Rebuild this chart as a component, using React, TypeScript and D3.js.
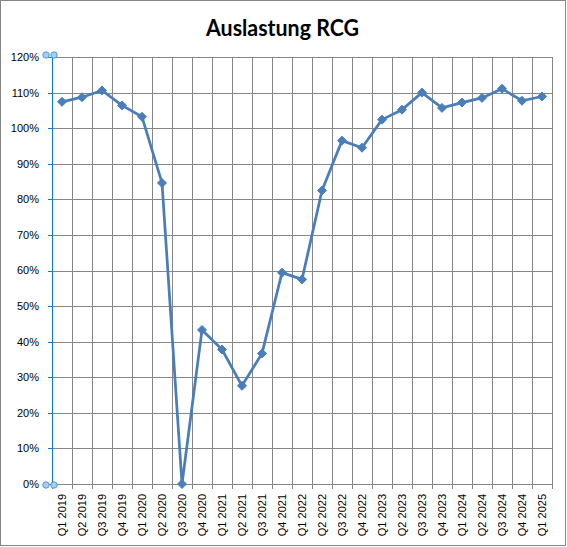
import * as d3 from "d3";

// quarter labels along the x axis
const quarters = [
  "Q1 2019", "Q2 2019", "Q3 2019", "Q4 2019",
  "Q1 2020", "Q2 2020", "Q3 2020", "Q4 2020",
  "Q1 2021", "Q2 2021", "Q3 2021", "Q4 2021",
  "Q1 2022", "Q2 2022", "Q3 2022", "Q4 2022",
  "Q1 2023", "Q2 2023", "Q3 2023", "Q4 2023",
  "Q1 2024", "Q2 2024", "Q3 2024", "Q4 2024",
  "Q1 2025",
];

// utilisation in percent
const auslastung = [
  107.4, 108.7, 110.6, 106.4,
  103.2, 84.6, 0, 43.3,
  37.8, 27.6, 36.7, 59.4,
  57.5, 82.5, 96.5, 94.5,
  102.4, 105.2, 110.0, 105.7,
  107.2, 108.5, 111.1, 107.7,
  108.9,
];

const yTicks = [0, 10, 20, 30, 40, 50, 60, 70, 80, 90, 100, 110, 120];

const W = 567;
const H = 547;
const margin = { top: 57, right: 15, bottom: 63, left: 52 };
const font = "'Liberation Sans', Arial, sans-serif";
const lineColor = "#4a7ebb";
const gridColor = "#868686";
const axisBlue = "#0a78d7";

export default function App() {
  const x = d3
    .scaleBand<string>()
    .domain(quarters)
    .range([margin.left, W - margin.right]);

  const y = d3
    .scaleLinear()
    .domain([0, 120])
    .range([H - margin.bottom, margin.top]);

  const cx = (q: string) => (x(q) ?? 0) + x.bandwidth() / 2;

  const line = d3
    .line<number>()
    .x((_, i) => cx(quarters[i]))
    .y((d) => y(d));

  const bottom = y(0);
  const top = y(120);
  const left = margin.left;
  const right = W - margin.right;

  // category boundaries (vertical gridlines)
  const boundaries = quarters.map((q) => x(q) ?? 0).concat([right]);

  // Excel-style diamond marker
  const diamond = "M0,-4.5L4.5,0L0,4.5L-4.5,0Z";

  return (
    <div style={{ position: "absolute", left: 0, top: 0 }}>
      <svg width={W} height={H} style={{ display: "block", background: "#fff" }}>
        <rect x={0.5} y={0.5} width={W - 2} height={H - 2} fill="#fff" stroke={gridColor} />

        <text
          x={206}
          y={36}
          textLength={153}
          lengthAdjust="spacingAndGlyphs"
          fontFamily="Lato, 'Liberation Sans', sans-serif"
          fontWeight="bold"
          fontSize={22}
          fill="#000"
        >
          Auslastung RCG
        </text>

        {/* horizontal gridlines */}
        {yTicks.map((t) => (
          <line
            key={"h" + t}
            x1={left}
            x2={right}
            y1={Math.round(y(t)) + 0.5}
            y2={Math.round(y(t)) + 0.5}
            stroke={gridColor}
          />
        ))}

        {/* vertical gridlines with tick marks below the axis */}
        {boundaries.map((b, i) => (
          <line
            key={"v" + i}
            x1={Math.round(b) + 0.5}
            x2={Math.round(b) + 0.5}
            y1={top}
            y2={bottom + 5}
            stroke={gridColor}
          />
        ))}

        {/* y axis (selected, blue) */}
        <line x1={left + 0.5} x2={left + 0.5} y1={top} y2={bottom} stroke={axisBlue} />
        {yTicks.map((t) => (
          <line
            key={"yt" + t}
            x1={left - 4}
            x2={left}
            y1={Math.round(y(t)) + 0.5}
            y2={Math.round(y(t)) + 0.5}
            stroke={axisBlue}
          />
        ))}
        {[top - 2, bottom + 1].map((cy, i) => (
          <g key={"hdl" + i}>
            <circle cx={left - 6} cy={cy} r={3.2} fill="#a9cdf0" stroke="#4a9be0" strokeWidth={1} />
            <circle cx={left + 2} cy={cy} r={3.2} fill="#a9cdf0" stroke="#4a9be0" strokeWidth={1} />
          </g>
        ))}

        {/* y tick labels */}
        {yTicks.map((t) => (
          <text
            key={"yl" + t}
            x={39}
            y={y(t)}
            dy="0.36em"
            textAnchor="end"
            fontFamily={font}
            fontSize={11}
            fill="#000"
          >
            {t}%
          </text>
        ))}

        {/* x tick labels, rotated */}
        {quarters.map((q) => (
          <text
            key={"xl" + q}
            transform={`translate(${cx(q)},${bottom + 10}) rotate(-90)`}
            dy="0.36em"
            textAnchor="end"
            fontFamily={font}
            fontSize={11}
            fill="#000"
          >
            {q}
          </text>
        ))}

        {/* data line */}
        <path
          d={line(auslastung) ?? ""}
          fill="none"
          stroke={lineColor}
          strokeWidth={2.75}
          strokeLinejoin="round"
        />
        {auslastung.map((v, i) => (
          <path
            key={"m" + i}
            d={diamond}
            transform={`translate(${cx(quarters[i])},${y(v)})`}
            fill={lineColor}
            stroke={lineColor}
          />
        ))}
      </svg>
    </div>
  );
}
